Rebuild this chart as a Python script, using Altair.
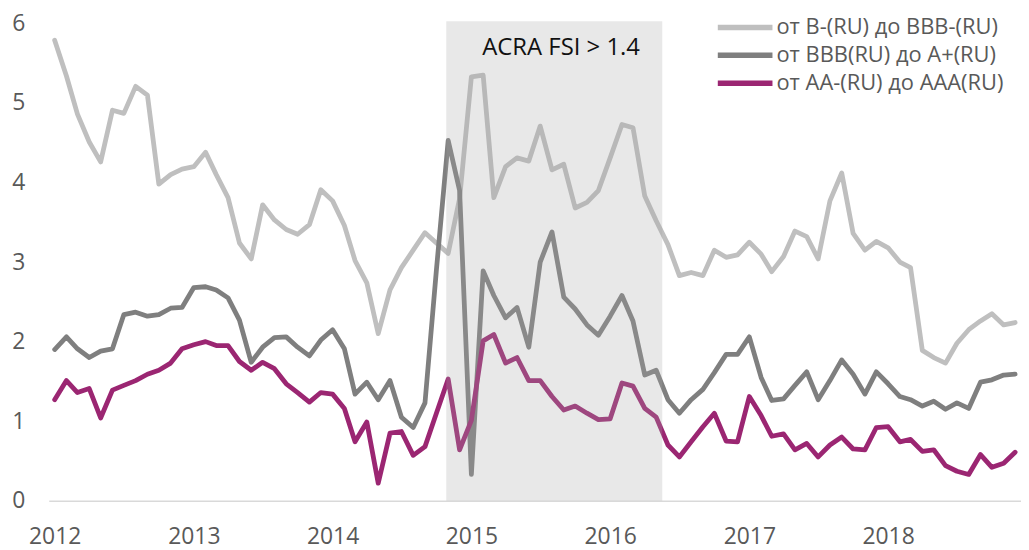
import altair as alt
import pandas as pd

months = pd.date_range("2012-01-01", periods=84, freq="MS")

series_names = ["от B-(RU) до BBB-(RU)", "от BBB(RU) до A+(RU)", "от AA-(RU) до AAA(RU)"]
colors = ["#BFBFBF", "#7F7F7F", "#9B2672"]

b_to_bbb = [
    5.79, 5.34, 4.86, 4.51, 4.26, 4.91, 4.87, 5.21, 5.10, 3.98, 4.10, 4.17,
    4.20, 4.38, 4.10, 3.81, 3.24, 3.04, 3.72, 3.53, 3.41, 3.35, 3.47, 3.91,
    3.77, 3.46, 3.02, 2.74, 2.10, 2.65, 2.93, 3.15, 3.37, 3.24, 3.11, 3.80,
    5.33, 5.35, 3.81, 4.20, 4.31, 4.27, 4.71, 4.16, 4.23, 3.68, 3.75, 3.90,
    4.31, 4.73, 4.69, 3.83, 3.52, 3.22, 2.83, 2.87, 2.83, 3.15, 3.06, 3.09,
    3.25, 3.10, 2.88, 3.07, 3.39, 3.32, 3.04, 3.77, 4.12, 3.36, 3.15, 3.26,
    3.18, 3.00, 2.93, 1.89, 1.80, 1.73, 1.98, 2.15, 2.26, 2.35, 2.21, 2.24,
]
bbb_to_a = [
    1.90, 2.06, 1.91, 1.80, 1.88, 1.91, 2.34, 2.37, 2.32, 2.34, 2.42, 2.43,
    2.68, 2.69, 2.65, 2.55, 2.27, 1.74, 1.93, 2.05, 2.06, 1.93, 1.82, 2.02,
    2.15, 1.91, 1.34, 1.49, 1.27, 1.51, 1.05, 0.92, 1.23, 2.90, 4.53, 3.90,
    0.33, 2.89, 2.58, 2.30, 2.43, 1.93, 3.00, 3.38, 2.56, 2.41, 2.21, 2.08,
    2.32, 2.58, 2.26, 1.58, 1.64, 1.27, 1.10, 1.27, 1.40, 1.61, 1.84, 1.84,
    2.06, 1.55, 1.26, 1.28, 1.45, 1.62, 1.27, 1.51, 1.77, 1.59, 1.34, 1.62,
    1.47, 1.31, 1.27, 1.19, 1.25, 1.15, 1.23, 1.16, 1.49, 1.52, 1.58, 1.59,
]
aa_to_aaa = [
    1.27, 1.51, 1.36, 1.41, 1.04, 1.39, 1.45, 1.51, 1.59, 1.64, 1.73, 1.91,
    1.96, 2.00, 1.95, 1.95, 1.75, 1.64, 1.74, 1.66, 1.47, 1.36, 1.24, 1.36,
    1.34, 1.16, 0.74, 0.99, 0.22, 0.85, 0.87, 0.57, 0.68, 1.10, 1.53, 0.64,
    1.01, 2.01, 2.09, 1.73, 1.80, 1.51, 1.51, 1.31, 1.14, 1.19, 1.10, 1.02,
    1.03, 1.48, 1.44, 1.16, 1.05, 0.70, 0.55, 0.74, 0.93, 1.10, 0.75, 0.74,
    1.31, 1.07, 0.81, 0.84, 0.64, 0.72, 0.55, 0.70, 0.80, 0.65, 0.64, 0.92,
    0.93, 0.74, 0.77, 0.62, 0.64, 0.44, 0.37, 0.33, 0.58, 0.42, 0.47, 0.61,
]

shade_start = ["2014-10-27T00:00:00"]
shade_end = ["2016-05-17T00:00:00"]
shade_top = [6.03]
annotation_text = ["ACRA FSI > 1.4"]
annotation_date = ["2015-08-25T00:00:00"]
annotation_value = [5.69]

year_ticks = list(range(2012, 2019))
y_ticks = [0, 1, 2, 3, 4, 5, 6]

rows = []
for name, vals in zip(series_names, [b_to_bbb, bbb_to_a, aa_to_aaa]):
    for d, v in zip(months, vals):
        rows.append({"date": d, "series": name, "value": v})
df = pd.DataFrame(rows)

shade_df = pd.DataFrame({"start": shade_start, "end": shade_end, "top": shade_top, "bottom": [0]})
ann_df = pd.DataFrame({"date": annotation_date, "value": annotation_value, "label": annotation_text})

FONT = "Open Sans"
FS = 23
x_scale = alt.Scale(domain=[alt.DateTime(year=2011, month=12, date=16, hours=12),
                            alt.DateTime(year=2018, month=12, date=16, hours=12)])
y_scale = alt.Scale(domain=[0, 6], nice=False, zero=True)

x_axis = alt.Axis(values=[alt.DateTime(year=y, month=1, date=1) for y in year_ticks],
                  format="%Y", title=None, labelFontSize=FS, labelColor="#595959",
                  labelFont=FONT, domainColor="#D9D9D9", domainWidth=1.5, ticks=False,
                  grid=False, labelPadding=25, labelFlush=False)
y_axis = alt.Axis(values=y_ticks, format="d", title=None, domain=False, ticks=False, grid=False,
                  labelFontSize=FS, labelColor="#595959", labelFont=FONT, labelPadding=24)

lines = alt.Chart(df).mark_line(strokeWidth=4.8, strokeJoin="round", strokeCap="round").encode(
    x=alt.X("date:T", scale=x_scale, axis=x_axis),
    y=alt.Y("value:Q", scale=y_scale, axis=y_axis),
    color=alt.Color("series:N", sort=series_names,
                    scale=alt.Scale(domain=series_names, range=colors),
                    legend=alt.Legend(title=None, orient="none", legendX=670, legendY=-10,
                                      symbolType="stroke", symbolSize=3025, symbolStrokeWidth=5.5,
                                      labelFontSize=22, labelFont=FONT, labelColor="#595959",
                                      clipHeight=28, rowPadding=0, labelOffset=1,
                                      labelLimit=400)),
)

shade = alt.Chart(shade_df).mark_rect(color="#A8A8A8", opacity=0.26).encode(
    x=alt.X("start:T", scale=x_scale),
    x2="end:T",
    y=alt.Y("top:Q", scale=y_scale),
    y2="bottom:Q",
)

ann = alt.Chart(ann_df).mark_text(fontSize=24, font=FONT, color="#111111", align="center",
                                   baseline="middle").encode(
    x=alt.X("date:T", scale=x_scale),
    y=alt.Y("value:Q", scale=y_scale),
    text="label:N",
)

chart = alt.layer(lines, shade, ann).properties(
    width=978, height=480,
    autosize=alt.AutoSizeParams(type="none"),
    padding={"left": 41, "top": 14, "right": 0, "bottom": 48},
).configure_view(stroke=None)

chart.save("out.html", embed_options={"renderer": "svg", "actions": False})
